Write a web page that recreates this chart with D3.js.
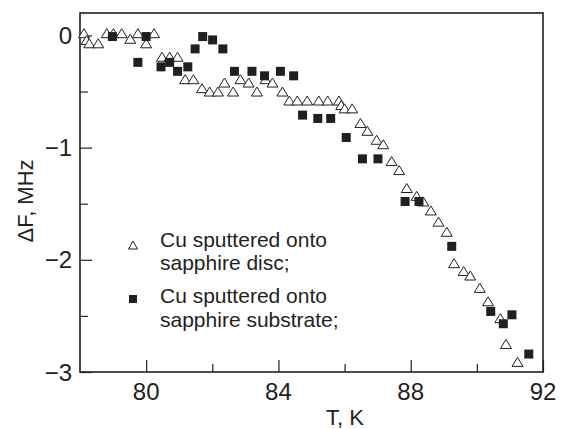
<!DOCTYPE html>
<html>
<head>
<meta charset="utf-8">
<script src="https://cdn.jsdelivr.net/npm/d3@7"></script>
<style>
  html, body { margin: 0; padding: 0; background: #fff; }
  text { font-family: "Liberation Sans", Arial, Helvetica, sans-serif; fill: #231f20; }
</style>
</head>
<body>
<svg id="chart" width="566" height="429"></svg>
<script>
// ---- data ----
const discT = [78.12, 78.20, 78.28, 78.55, 78.81, 79.01, 79.26, 79.52, 79.75, 80.00, 80.24,
  80.48, 80.71, 80.95, 81.18, 81.43, 81.69, 81.92, 82.17, 82.37, 82.63, 82.85, 83.10, 83.35,
  83.61, 83.82, 84.12, 84.33, 84.57, 84.87, 85.22, 85.49, 85.83, 85.90, 86.00, 86.23, 86.48,
  86.69, 86.97, 87.17, 87.42, 87.65, 87.88, 88.18, 88.38, 88.61, 88.84, 89.09, 89.31, 89.60,
  89.80, 90.09, 90.34, 90.71, 90.88, 91.23];
const discDF = [0.02, -0.04, -0.07, -0.07, 0.02, 0.02, 0.02, -0.03, 0.02, -0.07, 0.02,
  -0.19, -0.19, -0.19, -0.39, -0.39, -0.47, -0.50, -0.50, -0.42, -0.50, -0.39, -0.42, -0.50,
  -0.39, -0.42, -0.50, -0.58, -0.58, -0.58, -0.58, -0.58, -0.58, -0.62, -0.65, -0.65, -0.78,
  -0.85, -0.93, -0.97, -1.12, -1.20, -1.36, -1.43, -1.48, -1.56, -1.66, -1.75, -2.03, -2.10,
  -2.14, -2.25, -2.37, -2.52, -2.75, -2.91];
const substrateT = [78.98, 80.00, 79.75, 80.45, 80.71, 80.95, 81.26, 81.48, 81.71, 82.01,
  82.32, 82.67, 83.20, 83.58, 84.06, 84.46, 84.73, 85.19, 85.58, 86.05, 86.54, 87.01, 87.83,
  88.25, 89.24, 90.42, 90.80, 91.06, 91.57];
const substrateDF = [-0.01, -0.01, -0.24, -0.28, -0.24, -0.32, -0.28, -0.12, -0.01, -0.04,
  -0.12, -0.32, -0.32, -0.36, -0.32, -0.36, -0.71, -0.74, -0.74, -0.91, -1.10, -1.10, -1.48,
  -1.48, -1.88, -2.46, -2.57, -2.49, -2.84];
const xMajorTicks = [80, 84, 88, 92];
const xMinorTicks = [82, 86, 90];
const yMajorTicks = [0, -1, -2, -3];
const yMinorTicks = [-0.5, -1.5, -2.5];
const legendLabels = [["Cu sputtered onto", "sapphire disc;"], ["Cu sputtered onto", "sapphire substrate;"]];
const xTitle = "T, K";
const yTitle = "ΔF, MHz";

// ---- layout ----
const svg = d3.select("#chart");
const L = 80, R = 543, T = 13, B = 372;
const x = d3.scaleLinear().domain([78, 92]).range([L, R]);
const y = d3.scaleLinear().domain([-3, 0.2]).range([B, T]);
const ink = "#231f20";
const fmt = d => (d < 0 ? "\u2212" + Math.abs(d) : String(d));

// bottom axis (inward ticks)
const gx = svg.append("g").attr("transform", `translate(0,${B})`);
gx.call(d3.axisTop(x).tickValues(xMajorTicks).tickSize(12).tickFormat(""));
gx.append("g").call(d3.axisTop(x).tickValues(xMinorTicks).tickSize(8).tickFormat(""));
gx.selectAll("path.domain").remove();
gx.selectAll("line").attr("stroke", ink).attr("stroke-width", 1.2);
svg.append("g").selectAll("text").data(xMajorTicks).join("text")
  .attr("x", d => x(d)).attr("y", 400)
  .attr("text-anchor", "middle").attr("font-size", 24).text(fmt);

// left axis (inward ticks)
const gy = svg.append("g").attr("transform", `translate(${L},0)`);
gy.call(d3.axisRight(y).tickValues(yMajorTicks).tickSize(12).tickFormat(""));
gy.append("g").call(d3.axisRight(y).tickValues(yMinorTicks).tickSize(8).tickFormat(""));
gy.selectAll("path.domain").remove();
gy.selectAll("line").attr("stroke", ink).attr("stroke-width", 1.2);
svg.append("g").selectAll("text").data(yMajorTicks).join("text")
  .attr("x", 72).attr("y", d => y(d)).attr("dy", "0.36em")
  .attr("text-anchor", "end").attr("font-size", 24).text(fmt);

// frame
svg.append("rect").attr("x", L).attr("y", T).attr("width", R - L).attr("height", B - T)
  .attr("fill", "none").attr("stroke", ink).attr("stroke-width", 1.6);

// axis titles
svg.append("text").attr("x", 345).attr("y", 425).attr("text-anchor", "middle")
  .attr("font-size", 22).text(xTitle);
svg.append("text").attr("transform", "translate(33,201) rotate(-90)")
  .attr("text-anchor", "middle").attr("font-size", 22).text(yTitle);

// markers
const tri = (w, h) => `M0,${-h / 2}L${w / 2},${h / 2}L${-w / 2},${h / 2}Z`;
const discData = discT.map((t, i) => ({ t, v: discDF[i] }));
const subData = substrateT.map((t, i) => ({ t, v: substrateDF[i] }));

svg.append("g").selectAll("path").data(discData).join("path")
  .attr("d", tri(11, 9))
  .attr("transform", d => `translate(${x(d.t)},${y(d.v)})`)
  .attr("fill", "#fff").attr("stroke", ink).attr("stroke-width", 1);

const sq = 9;
svg.append("g").selectAll("rect").data(subData).join("rect")
  .attr("x", d => x(d.t) - sq / 2).attr("y", d => y(d.v) - sq / 2)
  .attr("width", sq).attr("height", sq).attr("fill", ink);

// legend
const lg = svg.append("g");
lg.append("path").attr("d", tri(9, 8)).attr("transform", "translate(133,245)")
  .attr("fill", "#fff").attr("stroke", ink).attr("stroke-width", 1);
lg.append("rect").attr("x", 129).attr("y", 295).attr("width", 8).attr("height", 8).attr("fill", ink);
const legendY = [[247, 270], [303, 327]];
legendLabels.forEach((lines, i) => {
  lines.forEach((s, j) => {
    lg.append("text").attr("x", 160).attr("y", legendY[i][j]).attr("font-size", 21).text(s);
  });
});
</script>
</body>
</html>
